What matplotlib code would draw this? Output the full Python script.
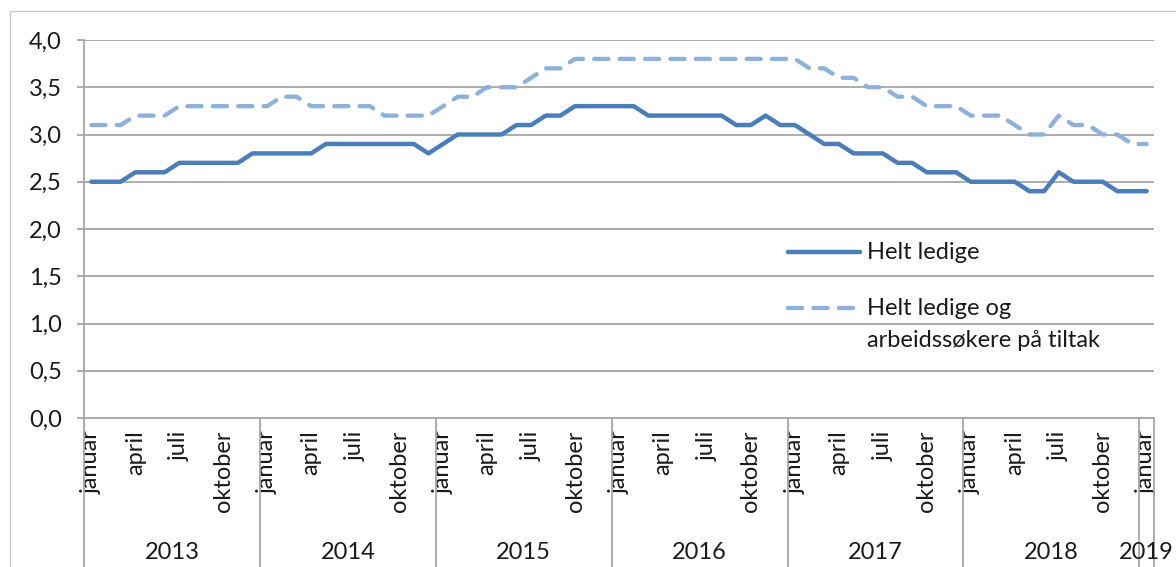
import numpy as np
import matplotlib.pyplot as plt
from matplotlib.patches import Rectangle
from matplotlib.ticker import FuncFormatter

plt.rcParams['font.family'] = ['Lato', 'DejaVu Sans']

# monthly data jan 2013 - jan 2019
years = ['2013', '2014', '2015', '2016', '2017', '2018', '2019']
months = ['januar', 'februar', 'mars', 'april', 'mai', 'juni', 'juli',
          'august', 'september', 'oktober', 'november', 'desember']

helt_ledige = [2.5, 2.5, 2.5, 2.6, 2.6, 2.6, 2.7, 2.7, 2.7, 2.7, 2.7, 2.8,   # 2013
               2.8, 2.8, 2.8, 2.8, 2.9, 2.9, 2.9, 2.9, 2.9, 2.9, 2.9, 2.8,   # 2014
               2.9, 3.0, 3.0, 3.0, 3.0, 3.1, 3.1, 3.2, 3.2, 3.3, 3.3, 3.3,   # 2015
               3.3, 3.3, 3.2, 3.2, 3.2, 3.2, 3.2, 3.2, 3.1, 3.1, 3.2, 3.1,   # 2016
               3.1, 3.0, 2.9, 2.9, 2.8, 2.8, 2.8, 2.7, 2.7, 2.6, 2.6, 2.6,   # 2017
               2.5, 2.5, 2.5, 2.5, 2.4, 2.4, 2.6, 2.5, 2.5, 2.5, 2.4, 2.4,   # 2018
               2.4]                                                         # 2019
med_tiltak = [3.1, 3.1, 3.1, 3.2, 3.2, 3.2, 3.3, 3.3, 3.3, 3.3, 3.3, 3.3,
              3.3, 3.4, 3.4, 3.3, 3.3, 3.3, 3.3, 3.3, 3.2, 3.2, 3.2, 3.2,
              3.3, 3.4, 3.4, 3.5, 3.5, 3.5, 3.6, 3.7, 3.7, 3.8, 3.8, 3.8,
              3.8, 3.8, 3.8, 3.8, 3.8, 3.8, 3.8, 3.8, 3.8, 3.8, 3.8, 3.8,
              3.8, 3.7, 3.7, 3.6, 3.6, 3.5, 3.5, 3.4, 3.4, 3.3, 3.3, 3.3,
              3.2, 3.2, 3.2, 3.1, 3.0, 3.0, 3.2, 3.1, 3.1, 3.0, 3.0, 2.9,
              2.9]

n = len(helt_ledige)
x = np.arange(n)
month_labels = [months[i % 12] for i in range(n)]

grid_col = '#A6A6A6'
text_col = '#1a1a1a'
fs = 17

fig = plt.figure(figsize=(11.76, 5.67), dpi=100)
ax = fig.add_axes([84/1176, 1-418/567, 1070/1176, 378/567])

ax.plot(x, helt_ledige, color='#4A7EBB', lw=3.2, solid_capstyle='round',
        solid_joinstyle='round')
ax.plot(x, med_tiltak, color='#8DB1DA', lw=3.1, dashes=(3.3, 2.6),
        dash_capstyle='round', dash_joinstyle='round')

ax.set_xlim(-0.5, n - 0.5)
ax.set_ylim(0, 4.0)
ax.set_yticks(np.arange(0, 4.01, 0.5))
ax.yaxis.set_major_formatter(FuncFormatter(lambda v, p: f'{v:.1f}'.replace('.', ',')))
ax.grid(axis='y', color=grid_col, lw=1.3)
ax.set_axisbelow(True)

for s in ['top', 'right']:
    ax.spines[s].set_visible(False)
for s in ['left', 'bottom']:
    ax.spines[s].set_color(grid_col)
    ax.spines[s].set_linewidth(1.3)

ax.tick_params(axis='y', length=5, width=1.3, color=grid_col, pad=11,
               labelsize=fs, labelcolor=text_col)

# month labels, every third month
ax.set_xticks(x[::3])
ax.set_xticklabels(month_labels[::3], rotation=90, va='top', ha='center')
ax.tick_params(axis='x', which='major', length=0, pad=9, labelsize=fs,
               labelcolor=text_col)

# year separators as long minor ticks
bounds = list(np.arange(-0.5, n, 12)) + [n - 0.5]
ax.set_xticks(bounds, minor=True)
ax.tick_params(axis='x', which='minor', length=110, width=1.3, color=grid_col)

for k, yr in enumerate(years):
    lo = -0.5 + 12 * k
    hi = min(lo + 12, n - 0.5)
    ax.text((lo + hi) / 2, -0.357, yr, transform=ax.get_xaxis_transform(),
            ha='center', va='center', fontsize=fs, color=text_col)

# legend
ax.plot([0.658, 0.725], [0.439, 0.439], transform=ax.transAxes,
        color='#4A7EBB', lw=3.2, solid_capstyle='round')
ax.text(0.732, 0.439, 'Helt ledige', transform=ax.transAxes,
        va='center', fontsize=fs, color=text_col)
ax.plot([0.658, 0.725], [0.291, 0.291], transform=ax.transAxes,
        color='#8DB1DA', lw=3.1, dashes=(3.3, 2.6), dash_capstyle='round')
ax.text(0.732, 0.291, 'Helt ledige og', transform=ax.transAxes,
        va='center', fontsize=fs, color=text_col)
ax.text(0.732, 0.206, 'arbeidssøkere på tiltak', transform=ax.transAxes,
        va='center', fontsize=fs, color=text_col)

# chart area frame
fig.patches.append(Rectangle((9.5/1176, -0.5), 1.5, 0.5 + 1 - 11/567,
                             transform=fig.transFigure, fill=False,
                             edgecolor='#C8C8C8', lw=1.0))

fig.savefig('out.png', dpi=100)
